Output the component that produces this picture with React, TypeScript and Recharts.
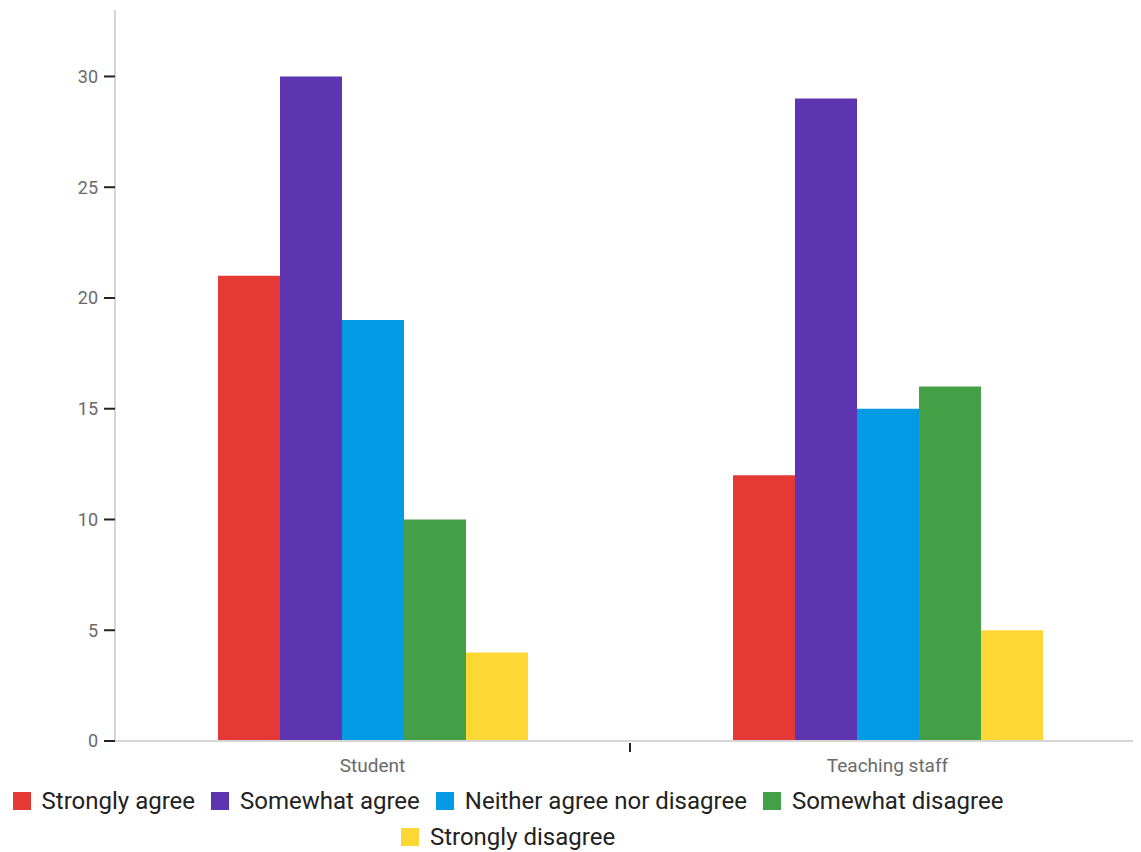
import { BarChart, Bar, XAxis, YAxis, Legend } from "recharts";

const groups = ["Student", "Teaching staff"];
const stronglyAgree = [21, 12];
const somewhatAgree = [30, 29];
const neither = [19, 15];
const somewhatDisagree = [10, 16];
const stronglyDisagree = [4, 5];
const yTicks = [0, 5, 10, 15, 20, 25, 30];

const series = [
  { key: "stronglyAgree", name: "Strongly agree", color: "#e53935" },
  { key: "somewhatAgree", name: "Somewhat agree", color: "#5e35b1" },
  { key: "neither", name: "Neither agree nor disagree", color: "#039be5" },
  { key: "somewhatDisagree", name: "Somewhat disagree", color: "#43a047" },
  { key: "stronglyDisagree", name: "Strongly disagree", color: "#fdd835" },
];

const data = groups.map((g, i) => ({
  group: g,
  stronglyAgree: stronglyAgree[i],
  somewhatAgree: somewhatAgree[i],
  neither: neither[i],
  somewhatDisagree: somewhatDisagree[i],
  stronglyDisagree: stronglyDisagree[i],
}));

const FONT = "Roboto, sans-serif";

// category label, plus a small tick on the boundary after the first band
const GroupTick = (props: any) => {
  const { x, y, payload, index } = props;
  const offset = payload?.offset ?? 0;
  return (
    <g>
      <text
        x={x}
        y={y + 23}
        textAnchor="middle"
        fill="#6a6a6a"
        fontSize={19}
        fontFamily={FONT}
      >
        {payload.value}
      </text>
      {index === 0 && (
        <line x1={x + offset} x2={x + offset} y1={y - 6} y2={y + 3} stroke="#222" strokeWidth={2} />
      )}
    </g>
  );
};

const LegendBox = () => (
  <div
    style={{
      display: "flex",
      flexWrap: "wrap",
      justifyContent: "center",
      width: 1016,
      paddingTop: 2,
      fontFamily: FONT,
      fontSize: 24,
      color: "#222",
    }}
  >
    {series.map((s) => (
      <div
        key={s.key}
        style={{ display: "flex", alignItems: "center", height: 36, margin: "0 8px" }}
      >
        <span
          style={{ width: 18, height: 18, background: s.color, marginRight: 11, display: "inline-block" }}
        />
        <span>{s.name}</span>
      </div>
    ))}
  </div>
);

export default function App() {
  return (
    <div style={{ marginLeft: -8, marginTop: -8 }}>
      <BarChart
        width={1141}
        height={852}
        data={data}
        margin={{ top: 10, right: -4, left: 0, bottom: 0 }}
        barCategoryGap="20%"
        barGap={0}
      >
        <XAxis
          dataKey="group"
          height={40}
          stroke="#d6d6d6"
          strokeWidth={2}
          tickLine={false}
          tick={<GroupTick />}
        />
        <YAxis
          width={115}
          domain={[0, 33]}
          ticks={yTicks}
          stroke="#d6d6d6"
          strokeWidth={2}
          tickSize={11}
          tickMargin={6}
          tickLine={{ stroke: "#222", strokeWidth: 2 }}
          tick={{ fill: "#6a6a6a", fontSize: 18, fontFamily: FONT }}
        />
        <Legend verticalAlign="bottom" height={71} content={<LegendBox />} />
        {series.map((s) => (
          <Bar key={s.key} dataKey={s.key} name={s.name} fill={s.color} isAnimationActive={false} />
        ))}
      </BarChart>
    </div>
  );
}
